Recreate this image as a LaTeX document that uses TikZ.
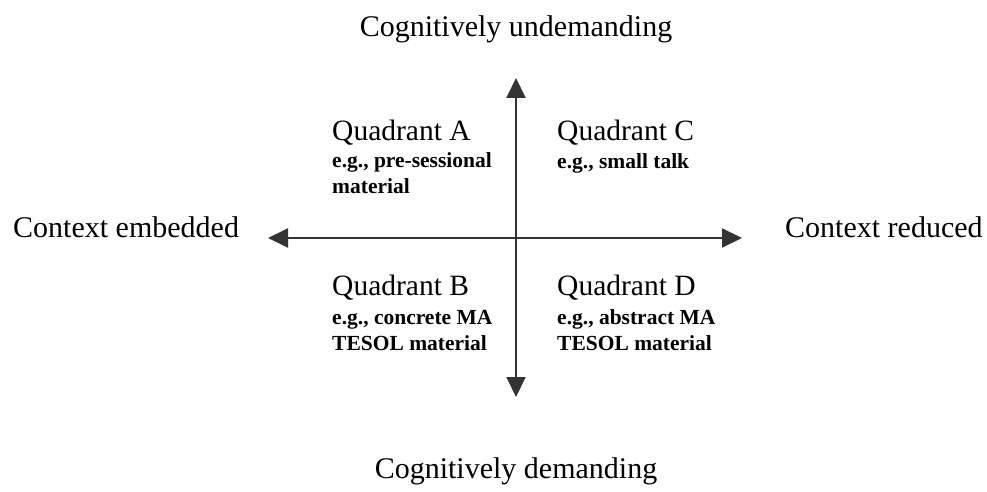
\documentclass[tikz,border=0pt]{standalone}
\usepackage{fontspec}
\setmainfont{Liberation Serif}
\usetikzlibrary{arrows.meta}

\tikzset{
  axislabel/.style={inner sep=0pt, font=\fontsize{30}{30}\selectfont},
  quadtitle/.style={inner sep=0pt, anchor=base west, font=\fontsize{29.5}{30}\selectfont},
  % multi-line notes are placed by the baseline of their last line
  quadnote/.style={inner sep=0pt, anchor=base west, align=left,
    font=\fontsize{21.5}{26}\selectfont\bfseries},
  axisline/.style={line width=2pt, draw=black!80,
    -{Triangle[length=20pt,width=19pt]}}
}

\begin{document}
\begin{tikzpicture}[x=1pt,y=-1pt]
  \useasboundingbox (0,0) rectangle (987,492);

  % axes
  \coordinate (o) at (516,238);
  \coordinate (up) at (516,78);
  \coordinate (down) at (516,397);
  \coordinate (left) at (268,238);
  \coordinate (right) at (742,238);
  \draw[axisline] (o) -- (up);
  \draw[axisline] (o) -- (down);
  \draw[axisline] (o) -- (left);
  \draw[axisline] (o) -- (right);

  % axis ends
  \node[axislabel, anchor=base] (undem) at (516,37) {Cognitively undemanding};
  \node[axislabel, anchor=base] (dem) at (516,478) {Cognitively demanding};
  \node[axislabel, anchor=base west] (emb) at (13,237) {Context embedded};
  \node[axislabel, anchor=base west] (red) at (785,237) {Context reduced};

  % quadrants
  \node[quadtitle] (qa) at (332,140) {Quadrant A};
  \node[quadnote] (na) at (332,193) {e.g., pre-sessional\\material};
  \node[quadtitle] (qc) at (557,140) {Quadrant C};
  \node[quadnote] (nc) at (557,168) {e.g., small talk};
  \node[quadtitle] (qb) at (332,295) {Quadrant B};
  \node[quadnote] (nb) at (332,350) {e.g., concrete MA\\TESOL material};
  \node[quadtitle] (qd) at (557,295) {Quadrant D};
  \node[quadnote] (nd) at (557,350) {e.g., abstract MA\\TESOL material};
\end{tikzpicture}
\end{document}
